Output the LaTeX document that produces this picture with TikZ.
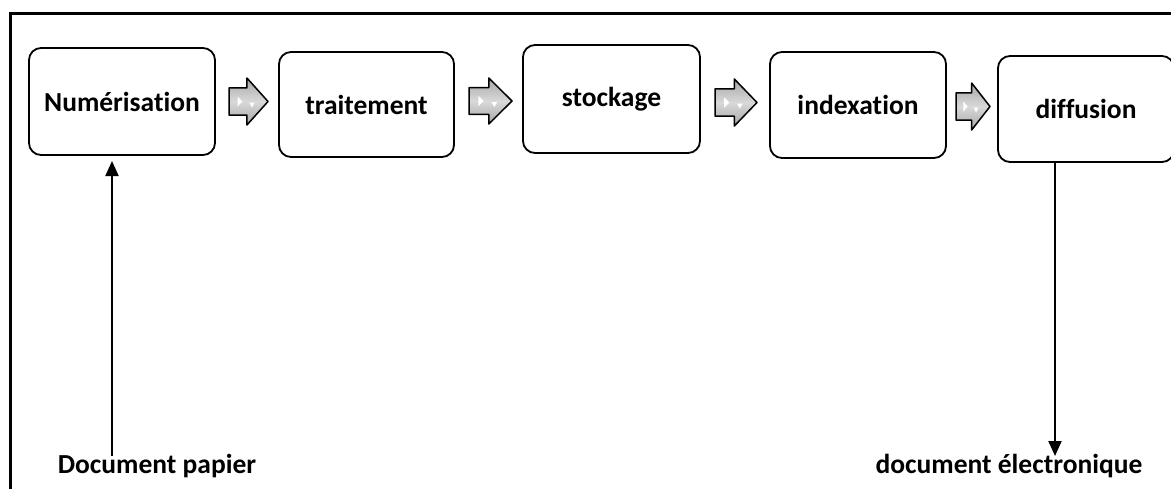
\documentclass[tikz,border=0pt]{standalone}
\usepackage{fontspec}
\setmainfont[Ligatures={NoCommon}]{Carlito}
\usetikzlibrary{arrows.meta}
\tikzset{
  procbox/.style={draw=black, line width=1.8pt, rounded corners=12pt, fill=white,
    font=\fontsize{27.5}{32}\selectfont\bfseries, inner sep=0pt},
  lbl/.style={font=\fontsize{27.5}{32}\selectfont\bfseries, inner sep=0pt, anchor=base},
  flow/.style={line width=2pt, -{Triangle[width=13pt,length=15pt]}},
  barrow/.style={draw=black, line width=1.5pt, line join=round, top color=gray!70, bottom color=gray!70, middle color=gray!30},
  hilite/.style={fill=white, draw=none}
}
\newcommand{\blockarr}[4]{% left x, mid y, width, height
  \path[barrow] (#1,#2-0.29*#4) -- (#1+0.46*#3,#2-0.29*#4) -- (#1+0.46*#3,#2-0.5*#4)
    -- (#1+#3,#2) -- (#1+0.46*#3,#2+0.5*#4) -- (#1+0.46*#3,#2+0.29*#4) -- (#1,#2+0.29*#4) -- cycle;
  \fill[hilite] (#1+0.22*#3,#2-5) -- (#1+0.34*#3,#2) -- (#1+0.22*#3,#2+5) -- cycle;
  \fill[hilite] (#1+0.52*#3,#2+1) -- (#1+0.66*#3,#2+1) -- (#1+0.59*#3,#2+6) -- cycle;
}
\begin{document}
\begin{tikzpicture}[x=1pt,y=-1pt]
\useasboundingbox (0,0) rectangle (1171,488);
\draw[line width=3pt] (10,500) -- (10,13) -- (1190,13);

\node[procbox, minimum width=186pt, minimum height=107pt] (num) at (122,101.5) {Numérisat\kern0pt ion};
\node[procbox, minimum width=175pt, minimum height=105pt] (trt) at (366.5,104.5) {traitement};
\node[procbox, minimum width=177pt, minimum height=108pt] (sto) at (611.5,99) {stockage};
\node[procbox, minimum width=176pt, minimum height=106pt] (idx) at (858,105) {indexat\kern0pt ion};
\node[procbox, minimum width=176pt, minimum height=106pt] (dif) at (1086,109) {diffusion};

\blockarr{229}{101.5}{39}{47}
\blockarr{469}{101}{43}{46}
\blockarr{715}{102.5}{42}{47}
\blockarr{956}{106.5}{34}{47}

\node[lbl] (dp) at (157,473) {Document papier};
\node[lbl] (de) at (1009,473) {document électronique};

\coordinate (upstart) at (112,456);
\coordinate (upend) at (112,161);
\draw[flow] (upstart) -- (upend);
\coordinate (dnstart) at (1055,162);
\coordinate (dnend) at (1055,456);
\draw[flow] (dnstart) -- (dnend);
\end{tikzpicture}
\end{document}
